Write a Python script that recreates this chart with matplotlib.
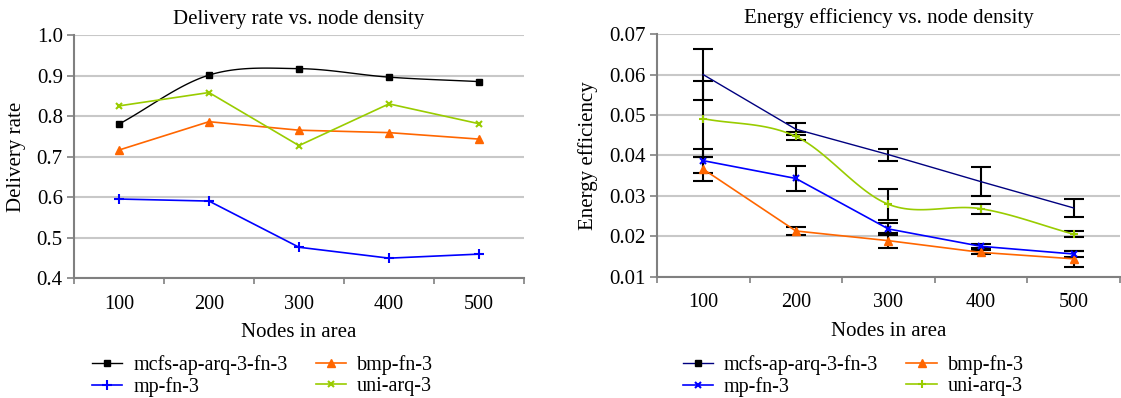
import numpy as np
import matplotlib
matplotlib.use('Agg')
import matplotlib.pyplot as plt
from matplotlib.lines import Line2D

plt.rcParams['font.family'] = ['Liberation Serif', 'DejaVu Serif']

# %% data
nodes = ['100', '200', '300', '400', '500']
names = ['mcfs-ap-arq-3-fn-3', 'bmp-fn-3', 'mp-fn-3', 'uni-arq-3']

# delivery rate
dr_mcfs = [0.780, 0.901, 0.917, 0.896, 0.885]
dr_bmp = [0.716, 0.786, 0.765, 0.759, 0.743]
dr_mp = [0.595, 0.590, 0.476, 0.449, 0.459]
dr_uni = [0.825, 0.858, 0.727, 0.830, 0.781]

# energy efficiency (+ error bar half widths)
ee_mcfs = [0.0600, 0.0465, 0.0402, 0.0335, 0.0270]
ee_bmp = [0.0366, 0.0213, 0.0189, 0.0160, 0.0144]
ee_mp = [0.0387, 0.0343, 0.0218, 0.0175, 0.0156]
ee_uni = [0.0491, 0.0447, 0.0279, 0.0268, 0.0205]
err_mcfs = [0.0064, 0.0015, 0.0015, 0.0036, 0.0022]
err_bmp = [0.0030, 0.0010, 0.0019, 0.0005, 0.0019]
err_mp = [0.0030, 0.0030, 0.0015, 0.0005, 0.0008]
err_uni = [0.0094, 0.0010, 0.0038, 0.0012, 0.0008]

c_black = 'black'
c_navy = '#000080'
c_orange = '#FF6600'
c_blue = '#0000FF'
c_green = '#99CC00'


def smooth(y, n=30):
    # excel style smoothed line (catmull-rom)
    y = np.asarray(y, float)
    p = np.concatenate([[2 * y[0] - y[1]], y, [2 * y[-1] - y[-2]]])
    xs, ys = [], []
    t = np.linspace(0, 1, n)
    for i in range(len(y) - 1):
        p0, p1, p2, p3 = p[i], p[i + 1], p[i + 2], p[i + 3]
        m1 = (p2 - p0) / 2
        m2 = (p3 - p1) / 2
        h00 = 2 * t**3 - 3 * t**2 + 1
        h10 = t**3 - 2 * t**2 + t
        h01 = -2 * t**3 + 3 * t**2
        h11 = t**3 - t**2
        xs.append(i + t)
        ys.append(h00 * p1 + h10 * m1 + h01 * p2 + h11 * m2)
    return np.concatenate(xs), np.concatenate(ys)


def style(ax, ylim, yticks, fmt):
    ax.set_xlim(-0.5, len(nodes) - 0.5)
    ax.set_ylim(*ylim)
    ax.set_yticks(yticks)
    ax.set_yticklabels([fmt % v for v in yticks], fontsize=15)
    ax.set_xticks(range(len(nodes)))
    ax.set_xticklabels(nodes, fontsize=14.5)
    ax.set_xticks(np.arange(-0.5, len(nodes), 1), minor=True)
    ax.tick_params(axis='x', which='major', length=0, pad=12)
    ax.tick_params(axis='x', which='minor', length=4, width=1.2, color='#808080', direction='out')
    ax.tick_params(axis='y', length=5, width=1.2, color='#808080', direction='out', pad=3)
    for s in ['top', 'right']:
        ax.spines[s].set_visible(False)
    for s in ['left', 'bottom']:
        ax.spines[s].set_color('#808080')
        ax.spines[s].set_linewidth(1.5)
    ax.grid(axis='y', color='#C8C8C8', lw=1.5)
    ax.set_axisbelow(True)
    ax.set_xlabel('Nodes in area', fontsize=15, labelpad=7)


x = np.arange(len(nodes))
fig = plt.figure(figsize=(11.21, 3.98), dpi=100)
ax1 = fig.add_axes([0.066, 0.3015, 0.4014, 0.6105])
ax2 = fig.add_axes([0.586, 0.305, 0.413, 0.609])

leg_kw = dict(ncol=2, loc='upper left', frameon=False, fontsize=14.5,
              handlelength=1.5, handletextpad=0.55, columnspacing=1.4,
              labelspacing=0.1, borderpad=0, borderaxespad=0)

# %% delivery rate
sx, sy = smooth(dr_mcfs)
ax1.plot(sx, sy, color=c_black, lw=1)
ax1.plot(x, dr_mcfs, ls='none', marker='s', ms=5, color=c_black)
ax1.plot(x, dr_bmp, color=c_orange, lw=1.2, marker='^', ms=6)
ax1.plot(x, dr_mp, color=c_blue, lw=1.2, marker='+', ms=7, mew=1.5)
ax1.plot(x, dr_uni, color=c_green, lw=1.2, marker='x', ms=5, mew=1.5)
style(ax1, (0.4, 1.0), np.arange(0.4, 1.01, 0.1), '%.1f')
ax1.set_title('Delivery rate vs. node density', fontsize=15, pad=8)
ax1.set_ylabel('Delivery rate', fontsize=15, labelpad=8)

h1 = [Line2D([], [], color=c_black, marker='s', ms=5, lw=1),
      Line2D([], [], color=c_orange, marker='^', ms=6, lw=1.2),
      Line2D([], [], color=c_blue, marker='+', ms=7, mew=1.5, lw=1.2),
      Line2D([], [], color=c_green, marker='x', ms=5, mew=1.5, lw=1.2)]
order = [0, 2, 1, 3]
fig.legend([h1[i] for i in order], [names[i] for i in order],
           bbox_to_anchor=(0.082, 0.107), **leg_kw)

# %% energy efficiency
ek = dict(fmt='none', ecolor='k', elinewidth=1.5, capsize=7.5, capthick=1.5, zorder=2)
ax2.errorbar(x, ee_mcfs, yerr=err_mcfs, **ek)
ax2.errorbar(x, ee_bmp, yerr=err_bmp, **ek)
ax2.errorbar(x, ee_mp, yerr=err_mp, **ek)
ax2.errorbar(x, ee_uni, yerr=err_uni, **ek)
ax2.plot(x, ee_mcfs, color=c_navy, lw=1, zorder=3)
ax2.plot(x, ee_bmp, color=c_orange, lw=1.2, marker='^', ms=6, zorder=3)
ax2.plot(x, ee_mp, color=c_blue, lw=1.2, marker='x', ms=5, mew=1.5, zorder=3)
sx, sy = smooth(ee_uni)
ax2.plot(sx, sy, color=c_green, lw=1.2, zorder=3)
ax2.plot(x, ee_uni, ls='none', marker='+', ms=6, mew=1.5, color=c_green, zorder=3)
style(ax2, (0.01, 0.07), np.arange(0.01, 0.0701, 0.01), '%.2f')
ax2.set_title('Energy efficiency vs. node density', fontsize=15, pad=8)
ax2.set_ylabel('Energy efficiency', fontsize=15, labelpad=8)

h2 = [Line2D([], [], color=c_navy, marker='s', mfc='k', mec='k', ms=5, lw=1),
      Line2D([], [], color=c_orange, marker='^', ms=6, lw=1.2),
      Line2D([], [], color=c_blue, marker='x', ms=5, mew=1.5, lw=1.2),
      Line2D([], [], color=c_green, marker='+', ms=6, mew=1.5, lw=1.2)]
fig.legend([h2[i] for i in order], [names[i] for i in order],
           bbox_to_anchor=(0.609, 0.107), **leg_kw)

fig.savefig('out.png', dpi=100)
